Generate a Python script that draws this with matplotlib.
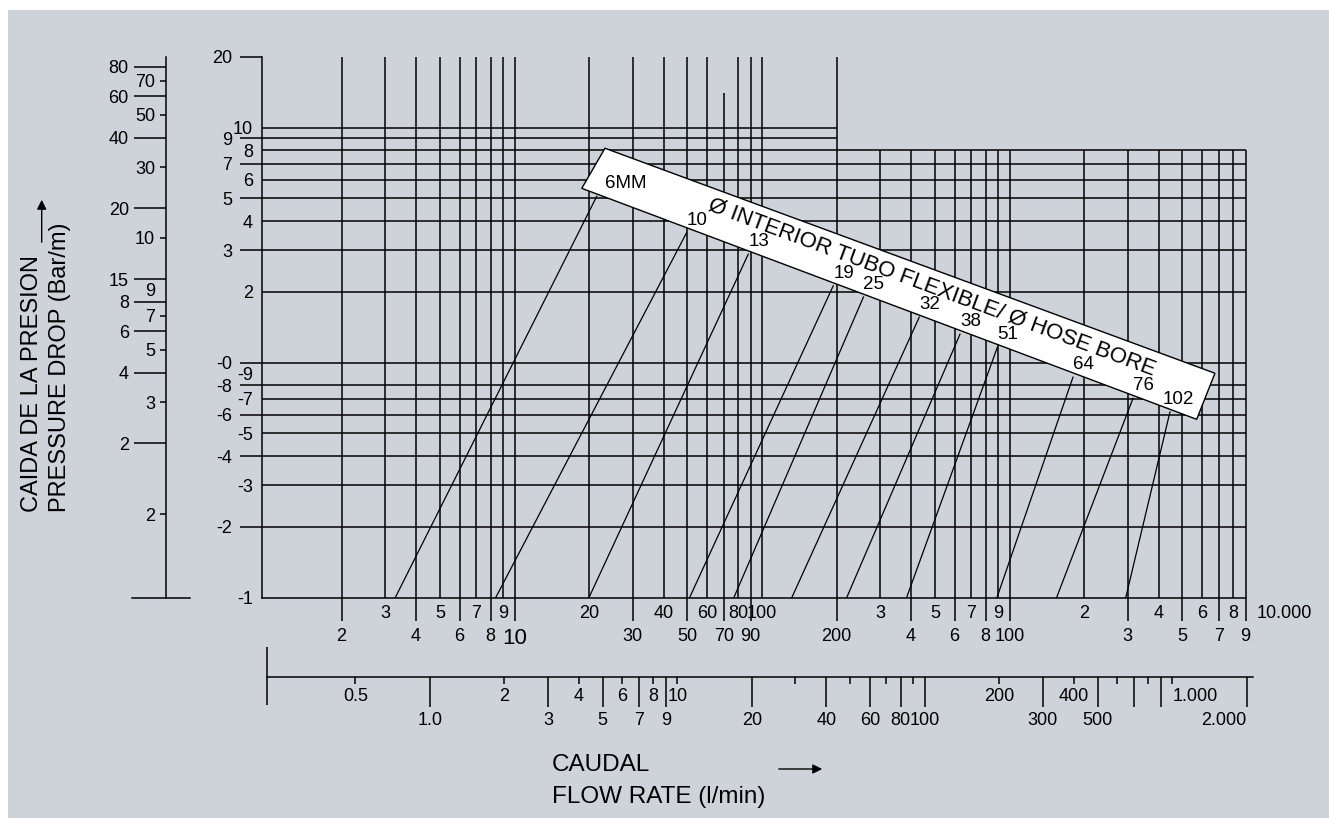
import numpy as np
import matplotlib.pyplot as plt
from matplotlib.patches import Polygon, Rectangle

plt.rcParams['font.family'] = ['Liberation Sans', 'DejaVu Sans']

W, H = 1329, 818
BG = '#ced3da'

GAL_TO_LMIN = 4.546      # imperial gallon -> litre
BARM_TO_PSIFT = 4.4208   # bar/m -> psi/ft

# main flow scale (l/min), bottom row = long ticks, top row = no ticks
flow_major = [2, 4, 6, 8, 10, 30, 50, 70, 90, 200, 400, 600, 800, 1000, 3000, 5000, 7000, 9000]
flow_major_labels = ['2', '4', '6', '8', '10', '30', '50', '70', '90', '200',
                     '4', '6', '8', '100', '3', '5', '7', '9']
flow_minor = [3, 5, 7, 9, 20, 40, 60, 80, 100, 300, 500, 700, 900, 2000, 4000, 6000, 8000, 10000]
flow_minor_labels = ['3', '5', '7', '9', '20', '40', '60', '80', '100',
                     '3', '5', '7', '9', '2', '4', '6', '8', '10.000']

# main pressure scale (bar/m)
dp_major = [20, 9, 7, 5, 3, 1, 0.8, 0.6, 0.4, 0.2]
dp_major_labels = ['20', '9', '7', '5', '3', '-0', '-8', '-6', '-4', '-2']
dp_minor = [10, 8, 6, 4, 2, 0.9, 0.7, 0.5, 0.3, 0.1]
dp_minor_labels = ['10', '8', '6', '4', '2', '-9', '-7', '-5', '-3', '-1']

# grid
grid_dp_short = [10, 9]                      # stop at 200 l/min
grid_dp_long = [8, 7, 6, 5, 4, 3, 2, 1, 0.8, 0.7, 0.6, 0.5, 0.4, 0.3, 0.2]
grid_flow_tall = [2, 3, 4, 5, 6, 7, 8, 9, 10, 20, 30, 40, 50, 60, 80, 90, 100, 200]
grid_flow_low = [300, 400, 500, 600, 700, 800, 900, 1000,
                 2000, 3000, 4000, 5000, 6000, 7000, 8000, 9000]

# hose bore lines: flow at 0.1 bar/m, and flow / pressure where they meet the band
hose_sizes = ['6MM', '10', '13', '19', '25', '32', '38', '51', '64', '76', '102']
hose_q_bottom = [3.3, 8.4, 20, 51, 77, 132, 220, 384, 890, 1550, 2950]
hose_q_top = [21.5, 49.6, 88, 194, 257, 432, 631, 893, 1805, 3155, 4450]
hose_dp_top = [5.1, 3.57, 2.89, 2.12, 1.9, 1.56, 1.32, 1.16, 0.866, 0.704, 0.616]

# lower flow scale (imperial gal/min)
gal_major = [1.0, 3, 5, 7, 9, 20, 40, 60, 80, 100, 300, 500, 700, 900, 2000]
gal_major_labels = ['1.0', '3', '5', '7', '9', '20', '40', '60', '80', '100',
                    '300', '500', '', '', '2.000']
gal_minor = [0.5, 2, 4, 6, 8, 10, 30, 50, 70, 90, 200, 400, 600, 800, 1000]
gal_minor_labels = ['0.5', '2', '4', '6', '8', '10', '', '', '', '',
                    '200', '400', '', '', '1.000']

# left pressure scale (psi/ft)
psi_major = [80, 60, 40, 20, 10, 8, 6, 4, 2]
psi_major_labels = ['80', '60', '40', '20', '15', '8', '6', '4', '2']
psi_minor = [70, 50, 30, 15, 9, 7, 5, 3, 1]
psi_minor_labels = ['70', '50', '30', '10', '9', '7', '5', '3', '2']

TICK_FS = 13


def rect(x0, y0, x1, y1):
    return [x0 / W, 1 - y1 / H, (x1 - x0) / W, (y1 - y0) / H]


fig = plt.figure(figsize=(W / 100, H / 100), dpi=100, facecolor='white')
fig.add_artist(Rectangle((8 / W, 0), 1 - 8 / W, 1 - 10 / H, transform=fig.transFigure,
                         facecolor=BG, edgecolor='none', zorder=-5))

x_lo = 10 ** ((262 - 267) / 247.5)
x_hi = 10 ** ((1300 - 267) / 247.5)
y_lo = 0.1
y_hi = 10 ** ((362.5 - 40) / 235)

lw = 1.1

# ---- main nomogram
ax = fig.add_axes(rect(262, 40, 1300, 597.5))
ax.set_xscale('log')
ax.set_yscale('log')
ax.set_xlim(x_lo, x_hi)
ax.set_ylim(y_lo, y_hi)
ax.patch.set_visible(False)
for s in ['top', 'right']:
    ax.spines[s].set_visible(False)
ax.spines['left'].set_bounds(0.1, 20)
ax.spines['bottom'].set_bounds(x_lo, 9000)
ax.spines['left'].set_linewidth(lw)
ax.spines['bottom'].set_linewidth(lw)

ax.hlines(grid_dp_short, x_lo, 200, color='black', lw=lw, zorder=1)
ax.hlines(grid_dp_long, x_lo, 9000, color='black', lw=lw, zorder=1)
ax.vlines(grid_flow_tall, 0.1, 20, color='black', lw=lw, zorder=1)
ax.vlines(70, 0.1, 14, color='black', lw=lw, zorder=1)
ax.vlines(grid_flow_low, 0.1, 8, color='black', lw=lw, zorder=1)

for qb, qt, dpt in zip(hose_q_bottom, hose_q_top, hose_dp_top):
    ax.plot([qb, qt], [0.1, dpt], color='black', lw=0.9, zorder=2)

band = Polygon([(23.2, 8.16), (6761, 0.90), (5706, 0.573), (18.7, 5.51)], closed=True,
               facecolor='white', edgecolor='black', lw=1.0, zorder=3)
ax.add_patch(band)
ax.text(484, 2.10, 'Ø INTERIOR TUBO FLEXIBLE/ Ø HOSE BORE', rotation=-20.4,
        rotation_mode='anchor', ha='center', va='center', fontsize=16, zorder=4)
for name, q, dp in zip(hose_sizes, hose_q_top, hose_dp_top):
    dx = 6 if name == '6MM' else (-5 if name == '102' else 0)
    ax.annotate(name, (q, dp), xytext=(dx, 9), textcoords='offset points',
                ha='left', va='center', fontsize=13.5, zorder=4)

ax.set_xticks(flow_major, flow_major_labels)
ax.set_xticks(flow_minor, flow_minor_labels, minor=True)
ax.set_yticks(dp_major, dp_major_labels)
ax.set_yticks(dp_minor, dp_minor_labels, minor=True)
ax.tick_params(axis='x', which='major', length=16.8, width=lw, pad=5.5, labelsize=TICK_FS)
ax.tick_params(axis='x', which='minor', length=0, pad=5.5, labelsize=TICK_FS)
ax.tick_params(axis='y', which='major', length=15.8, width=lw, pad=5.5, labelsize=TICK_FS)
ax.tick_params(axis='y', which='minor', length=0, pad=6.5, labelsize=TICK_FS)
for lbl in ax.get_xticklabels():
    if lbl.get_text() == '10':
        lbl.set_fontsize(16)
for lbl in ax.get_xticklabels(minor=True):
    if lbl.get_text() == '10.000':
        lbl.set_ha('left')

# ---- lower flow scale (gal/min)
ax2 = fig.add_axes(rect(262, 646.7, 1300, 676.7))
ax2.set_xscale('log')
ax2.set_xlim(x_lo / GAL_TO_LMIN, x_hi / GAL_TO_LMIN)
ax2.set_ylim(0, 1)
ax2.patch.set_visible(False)
for s in ['top', 'right', 'left']:
    ax2.spines[s].set_visible(False)
gal_start = 1 / GAL_TO_LMIN
ax2.spines['bottom'].set_bounds(gal_start, 2110)
ax2.spines['bottom'].set_linewidth(lw)
ax2.vlines(gal_start, -0.94, 1.0, color='black', lw=lw, clip_on=False)
ax2.set_yticks([])
ax2.set_xticks(gal_major, gal_major_labels)
ax2.set_xticks(gal_minor, gal_minor_labels, minor=True)
ax2.tick_params(axis='x', which='major', length=21.6, width=lw, pad=3.5, labelsize=TICK_FS)
ax2.tick_params(axis='x', which='minor', length=5, width=lw, pad=3, labelsize=TICK_FS)
for lbl in ax2.get_xticklabels():
    if lbl.get_text() == '2.000':
        lbl.set_ha('right')
for lbl in ax2.get_xticklabels(minor=True):
    if lbl.get_text() == '1.000':
        lbl.set_ha('left')

# ---- left pressure scale (psi/ft)
ax3 = fig.add_axes(rect(132, 40, 190, 597.5))
ax3.set_yscale('log')
ax3.set_ylim(y_lo * BARM_TO_PSIFT, y_hi * BARM_TO_PSIFT)
ax3.set_xlim(0, 1)
ax3.patch.set_visible(False)
for s in ['top', 'right']:
    ax3.spines[s].set_visible(False)
ax3.spines['left'].set_position(('axes', (165.7 - 132) / 58))
ax3.spines['left'].set_bounds(0.1 * BARM_TO_PSIFT, 20 * BARM_TO_PSIFT)
ax3.spines['left'].set_linewidth(lw)
ax3.spines['bottom'].set_linewidth(lw)
ax3.set_xticks([])
ax3.set_yticks(psi_major, psi_major_labels)
ax3.set_yticks(psi_minor, psi_minor_labels, minor=True)
ax3.tick_params(axis='y', which='major', length=23, width=lw, pad=3.6, labelsize=TICK_FS)
ax3.tick_params(axis='y', which='minor', length=4.3, width=lw, pad=3.4, labelsize=TICK_FS)
for tick in ax3.yaxis.get_minor_ticks():
    if tick.label1.get_text() == '9':
        tick.tick1line.set_visible(False)

# ---- axis titles
fig.text(31.7 / W, 1 - 512 / H, 'CAIDA DE LA PRESION', rotation=90, rotation_mode='anchor',
         ha='left', va='center', fontsize=17)
fig.text(60 / W, 1 - 512 / H, 'PRESSURE DROP (Bar/m)', rotation=90, rotation_mode='anchor',
         ha='left', va='center', fontsize=17)
ax.annotate('', xy=(41.7, H - 197), xytext=(41.7, H - 245), xycoords='figure pixels',
            textcoords='figure pixels', annotation_clip=False,
            arrowprops=dict(arrowstyle='-|>', color='black', lw=1, mutation_scale=14))

fig.text(552 / W, 1 - 765 / H, 'CAUDAL', ha='left', va='center', fontsize=17.5)
fig.text(552 / W, 1 - 797 / H, 'FLOW RATE (l/min)', ha='left', va='center', fontsize=17.5)
ax.annotate('', xy=(825, H - 769), xytext=(776, H - 769), xycoords='figure pixels',
            textcoords='figure pixels', annotation_clip=False,
            arrowprops=dict(arrowstyle='-|>', color='black', lw=1, mutation_scale=14))

fig.savefig('out.png', dpi=100, facecolor=fig.get_facecolor())
